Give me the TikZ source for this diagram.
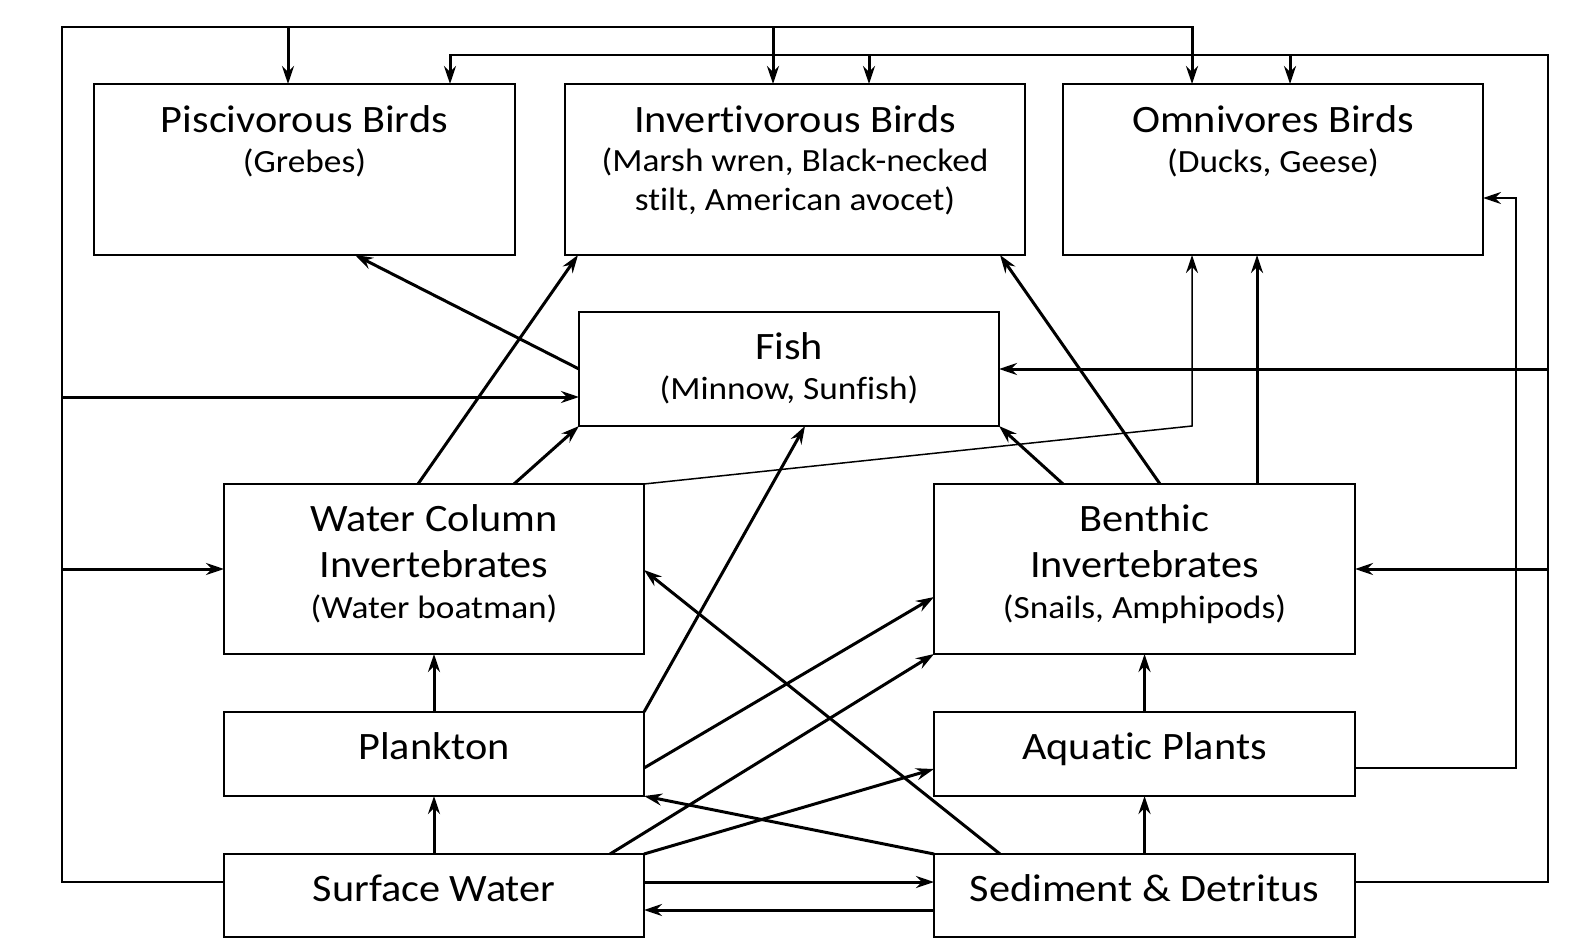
\documentclass[tikz,border=0pt]{standalone}
\usepackage{fontspec}
\setmainfont{Carlito}[FakeStretch=1.09, Ligatures={NoCommon}]
\usetikzlibrary{arrows.meta,calc}
\newcommand{\nl}{\kern0pt }
\begin{document}
\begin{tikzpicture}[x=0.5pt,y=-0.5pt,
 box/.style={draw, line width=1.25pt, inner sep=0pt, outer sep=0pt},
 ttl/.style={anchor=base, inner sep=0pt, font=\fontsize{19.4}{23}\selectfont},
 sub/.style={anchor=base, inner sep=0pt, font=\fontsize{16.2}{19}\selectfont},
 arr/.style={line width=1.5pt, -{Stealth[length=9pt,width=6pt,inset=3pt]}},
 tarr/.style={line width=0.75pt, -{Stealth[length=9pt,width=6pt,inset=3pt]}},
 trunk/.style={line width=1pt}]
\useasboundingbox (0,0) rectangle (1572,941);
% boxes
\node[box, minimum width=210.5pt, minimum height=85.5pt] (pis) at (304.5,169.5) {};
\node[box, minimum width=230pt, minimum height=85.5pt] (inv) at (795,169.5) {};
\node[box, minimum width=210pt, minimum height=85.5pt] (omn) at (1273,169.5) {};
\node[box, minimum width=210pt, minimum height=57pt] (fish) at (789,369) {};
\node[box, minimum width=210pt, minimum height=85pt] (wci) at (434,569) {};
\node[box, minimum width=210.5pt, minimum height=85pt] (ben) at (1144.5,569) {};
\node[box, minimum width=210pt, minimum height=42pt] (pla) at (434,754) {};
\node[box, minimum width=210.5pt, minimum height=42pt] (aqu) at (1144.5,754) {};
\node[box, minimum width=210pt, minimum height=41.5pt] (sur) at (434,895.5) {};
\node[box, minimum width=210.5pt, minimum height=41.5pt] (sed) at (1144.5,895.5) {};
% texts
\node[ttl] (pist) at (304.5,132.5) {Piscivorous Birds};
\node[sub] (piss) at (304.5,172.5) {(Grebes)};
\node[ttl] (invt) at (795,132.5) {Invert\nl ivorous Birds};
\node[sub] (invs1) at (795,172) {(Marsh wren, Black-necked};
\node[sub] (invs2) at (795,211) {st\nl ilt, American avocet)};
\node[ttl] (omnt) at (1273,132.5) {Omnivores Birds};
\node[sub] (omns) at (1273,172.5) {(Ducks, Geese)};
\node[ttl] (fisht) at (789,359) {Fish};
\node[sub] (fishs) at (789,399) {(Minnow, Sunf\nl ish)};
\node[ttl] (wcit1) at (434,531.5) {Water Column};
\node[ttl] (wcit2) at (434,577.5) {Invertebrates};
\node[sub] (wcis) at (434,618) {(Water boatman)};
\node[ttl] (bent1) at (1144.5,531.5) {Benthic};
\node[ttl] (bent2) at (1144.5,577.5) {Invertebrates};
\node[sub] (bens) at (1144.5,618) {(Snails, Amphipods)};
\node[ttl] (plat) at (434,759.5) {Plankton};
\node[ttl] (aqut) at (1144.5,759.5) {Aquat\nl ic Plants};
\node[ttl] (surt) at (434,901.5) {Surface Water};
\node[ttl] (sedt) at (1144.5,901.5) {Sediment \& Detritus};
% left trunk (Surface Water)
\draw[trunk] (sur.west |- 0,882) -| (62,27) -- (1192,27);
\draw[arr] (288,27) -- (288,0 |- pis.north);
\draw[arr] (773,27) -- (773,0 |- inv.north);
\draw[arr] (1192,26.5) -- (1192,0 |- omn.north);
\draw[arr] (62,397) -- (fish.west |- 0,397);
\draw[arr] (62,569) -- (wci.west |- 0,569);
% right trunk (Sediment)
\draw[trunk] (sed.east |- 0,882) -| (1548,55) -- (450,55);
\draw[arr] (450,54.5) -- (450,0 |- pis.north);
\draw[arr] (869,55) -- (869,0 |- inv.north);
\draw[arr] (1290,55) -- (1290,0 |- omn.north);
\draw[arr] (1548,369) -- (fish.east);
\draw[arr] (1548,569) -- (ben.east);
% internal flows
\draw[arr] (fish.west) -- (355,0 |- pis.south);
\draw[arr] (418,0 |- wci.north) -- (578,0 |- inv.south);
\draw[arr] (514,0 |- wci.north) -- (fish.south west);
\draw[tarr] (wci.north east) -- (1192,426) -- (1192,0 |- omn.south);
\draw[arr] (1063,0 |- ben.north) -- (fish.south east);
\draw[arr] (1160,0 |- ben.north) -- (1000,0 |- inv.south);
\draw[arr] (1257,0 |- ben.north) -- (1257,0 |- omn.south);
\draw[arr] (pla.north) -- (wci.south);
\draw[arr] (pla.north east) -- (805,0 |- fish.south);
\draw[arr] (pla.east |- 0,768) -- (ben.west |- 0,597);
\draw[arr] (sur.north) -- (pla.south);
\draw[arr] (610,0 |- sur.north) -- (ben.south west);
\draw[arr] (sur.north east) -- (aqu.west |- 0,769);
\draw[arr] (sed.north west) -- (pla.south east);
\draw[arr] (1000,0 |- sed.north) -- (wci.east |- 0,570);
\draw[arr] (sed.north) -- (aqu.south);
\draw[arr] (aqu.north) -- (ben.south);
\draw[tarr] (aqu.east |- 0,768) -| (1516,198) -- (omn.east |- 0,198);
\draw[arr] (sur.east |- 0,882) -- (sed.west |- 0,882);
\draw[arr] (sed.west |- 0,910) -- (sur.east |- 0,910);
\end{tikzpicture}
\end{document}
